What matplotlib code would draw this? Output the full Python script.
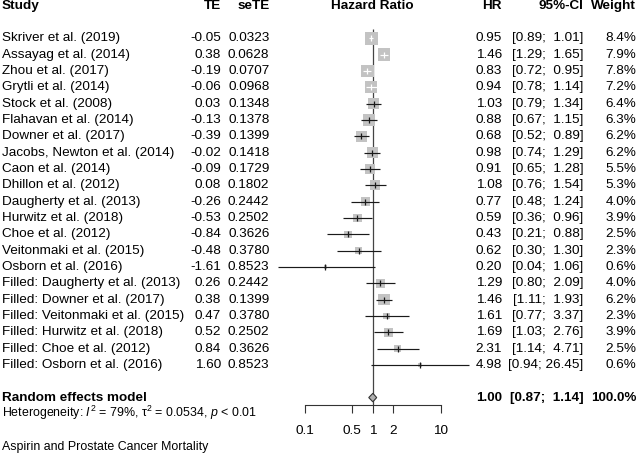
# Forest plot: aspirin and prostate cancer mortality (trim-and-fill random effects)

import numpy as np
import matplotlib
matplotlib.use('Agg')
import matplotlib.pyplot as plt
import matplotlib.transforms as mtransforms

# --------------------------- DATA ---------------------------

studies = ['Skriver et al. (2019)', 'Assayag et al. (2014)', 'Zhou et al. (2017)',
           'Grytli et al. (2014)', 'Stock et al. (2008)', 'Flahavan et al. (2014)',
           'Downer et al. (2017)', 'Jacobs, Newton et al. (2014)', 'Caon et al. (2014)',
           'Dhillon et al. (2012)', 'Daugherty et al. (2013)', 'Hurwitz et al. (2018)',
           'Choe et al. (2012)', 'Veitonmaki et al. (2015)', 'Osborn et al. (2016)',
           'Filled: Daugherty et al. (2013)', 'Filled: Downer et al. (2017)',
           'Filled: Veitonmaki et al. (2015)', 'Filled: Hurwitz et al. (2018)',
           'Filled: Choe et al. (2012)', 'Filled: Osborn et al. (2016)']
te = [-0.05, 0.38, -0.19, -0.06, 0.03, -0.13, -0.39, -0.02, -0.09, 0.08, -0.26,
      -0.53, -0.84, -0.48, -1.61, 0.26, 0.38, 0.47, 0.52, 0.84, 1.60]
sete = [0.0323, 0.0628, 0.0707, 0.0968, 0.1348, 0.1378, 0.1399, 0.1418, 0.1729,
        0.1802, 0.2442, 0.2502, 0.3626, 0.3780, 0.8523, 0.2442, 0.1399, 0.3780,
        0.2502, 0.3626, 0.8523]
hr = [0.95, 1.46, 0.83, 0.94, 1.03, 0.88, 0.68, 0.98, 0.91, 1.08, 0.77, 0.59,
      0.43, 0.62, 0.20, 1.29, 1.46, 1.61, 1.69, 2.31, 4.98]
ci_lower = [0.89, 1.29, 0.72, 0.78, 0.79, 0.67, 0.52, 0.74, 0.65, 0.76, 0.48, 0.36,
            0.21, 0.30, 0.04, 0.80, 1.11, 0.77, 1.03, 1.14, 0.94]
ci_upper = [1.01, 1.65, 0.95, 1.14, 1.34, 1.15, 0.89, 1.29, 1.28, 1.54, 1.24, 0.96,
            0.88, 1.30, 1.06, 2.09, 1.93, 3.37, 2.76, 4.71, 26.45]
weight = [8.4, 7.9, 7.8, 7.2, 6.4, 6.3, 6.2, 6.2, 5.5, 5.3, 4.0, 3.9, 2.5, 2.3,
          0.6, 4.0, 6.2, 2.3, 3.9, 2.5, 0.6]

pooled_hr = 1.00
pooled_lower = 0.87
pooled_upper = 1.14

tick_values = [0.1, 0.5, 1, 2, 10]
tick_labels = ['0.1', '0.5', '1', '2', '10']

hetero_text = r'Heterogeneity: $I^2$ = 79%, $\mathrm{\tau}^2$ = 0.0534, $p$ < 0.01'
title_text = 'Aspirin and Prostate Cancer Mortality'

# --------------------------- STYLE ---------------------------

plt.rcParams['font.family'] = ['Liberation Sans', 'DejaVu Sans']
plt.rcParams['mathtext.fontset'] = 'custom'
plt.rcParams['mathtext.rm'] = 'Liberation Sans'
plt.rcParams['mathtext.it'] = 'Liberation Sans:italic'
plt.rcParams['mathtext.bf'] = 'Liberation Sans:bold'

fs = 9.7               # [pt] main text size
fs_small = 8.9         # [pt] heterogeneity / title size
box_col = '#C3C3C3'
line_col = '#1A1A1A'

W, H = 637, 454
row0_px = 38.3         # pixel y of first study row
row_px = 16.33         # pixel height of one row
axis_px = 405.0        # pixel y of the x axis line


def px_to_row(y):
    return 1 + (y - row0_px) / row_px


# --------------------------- FIGURE ---------------------------

fig = plt.figure(figsize=(W / 100, H / 100), dpi=100)
ax = fig.add_axes([305 / W, (H - axis_px) / H, (440.7 - 305) / W, axis_px / H])
ax.set_xscale('log')
ax.set_xlim(0.1, 10)
ax.set_ylim(px_to_row(axis_px), px_to_row(0))
ax.patch.set_alpha(0)
for side in ['left', 'right', 'top']:
    ax.spines[side].set_visible(False)
ax.spines['bottom'].set_linewidth(0.8)
ax.spines['bottom'].set_color('#333333')
ax.yaxis.set_visible(False)
ax.set_xticks(tick_values)
ax.set_xticklabels(tick_labels, fontsize=fs)
ax.xaxis.set_minor_locator(matplotlib.ticker.NullLocator())
ax.tick_params(axis='x', direction='out', length=5.8, width=0.8, pad=8.5, color='#333333')

# blended transform: x in figure fraction, y in rows
tr = mtransforms.blended_transform_factory(fig.transFigure, ax.transData)

n = len(studies)
rows = np.arange(1, n + 1)

# Reference line at HR = 1.
ax.vlines(1, px_to_row(29), px_to_row(axis_px), color='#444444', lw=0.9, zorder=1)

# Squares, CI lines and estimate ticks.
box_side_px = 13 * np.sqrt(np.array(weight) / max(weight))
box_side_pt = box_side_px * 0.72
ax.scatter(hr, rows, s=box_side_pt ** 2, marker='s', color=box_col, linewidths=0,
           zorder=2, clip_on=False)
decade_px = (440.7 - 305) / 2
for i in range(n):
    half = box_side_px[i] / 2
    left_px = decade_px * np.log10(hr[i] / ci_lower[i])
    right_px = decade_px * np.log10(ci_upper[i] / hr[i])
    col = 'white' if (left_px < half and right_px < half) else line_col
    ax.plot([ci_lower[i], ci_upper[i]], [rows[i], rows[i]], color=col, lw=0.85,
            zorder=3, clip_on=False, solid_capstyle='butt')
    ax.plot(hr[i], rows[i], marker='|', ms=4, mew=0.9, color=col, zorder=3,
            clip_on=False)

# Pooled diamond.
pooled_row = n + 2
dh = 0.26
ax.fill([pooled_lower, pooled_hr, pooled_upper, pooled_hr],
        [pooled_row, pooled_row - dh, pooled_row, pooled_row + dh],
        facecolor='#B0B0B0', edgecolor='#333333', lw=0.8, zorder=3, clip_on=False)

# --------------------------- TEXT COLUMNS ---------------------------

x_study = 2 / W
x_te = 221 / W
x_sete = 269.5 / W
x_hr = 502 / W
x_ci = 583.5 / W
x_wt = 636 / W

head_row = -1
ax.text(x_study, head_row, 'Study', transform=tr, ha='left', va='center',
        fontsize=fs, fontweight='bold')
ax.text(x_te, head_row, 'TE', transform=tr, ha='right', va='center',
        fontsize=fs, fontweight='bold')
ax.text(x_sete, head_row, 'seTE', transform=tr, ha='right', va='center',
        fontsize=fs, fontweight='bold')
ax.text(372.6 / W, head_row, 'Hazard Ratio', transform=tr, ha='center', va='center',
        fontsize=fs, fontweight='bold')
ax.text(x_hr, head_row, 'HR', transform=tr, ha='right', va='center',
        fontsize=fs, fontweight='bold')
ax.text(x_ci, head_row, '95%-CI', transform=tr, ha='right', va='center',
        fontsize=fs, fontweight='bold')
ax.text(x_wt, head_row, 'Weight', transform=tr, ha='right', va='center',
        fontsize=fs, fontweight='bold')


def ci_string(lo, up):
    up_s = '%.2f' % up
    pad = '  ' if len(up_s) < 5 else ' '
    return '[%.2f;%s%s]' % (lo, pad, up_s)


for i in range(n):
    r = rows[i]
    ax.text(x_study, r, studies[i], transform=tr, ha='left', va='center', fontsize=fs)
    ax.text(x_te, r, '%.2f' % te[i], transform=tr, ha='right', va='center', fontsize=fs)
    ax.text(x_sete, r, '%.4f' % sete[i], transform=tr, ha='right', va='center', fontsize=fs)
    ax.text(x_hr, r, '%.2f' % hr[i], transform=tr, ha='right', va='center', fontsize=fs)
    ax.text(x_ci, r, ci_string(ci_lower[i], ci_upper[i]), transform=tr, ha='right',
            va='center', fontsize=fs)
    ax.text(x_wt, r, '%.1f%%' % weight[i], transform=tr, ha='right', va='center', fontsize=fs)

# Pooled row.
ax.text(x_study, pooled_row, 'Random effects model', transform=tr, ha='left',
        va='center', fontsize=fs, fontweight='bold')
ax.text(x_hr, pooled_row, '%.2f' % pooled_hr, transform=tr, ha='right', va='center',
        fontsize=fs, fontweight='bold')
ax.text(x_ci, pooled_row, ci_string(pooled_lower, pooled_upper), transform=tr,
        ha='right', va='center', fontsize=fs, fontweight='bold')
ax.text(x_wt, pooled_row, '100.0%', transform=tr, ha='right', va='center',
        fontsize=fs, fontweight='bold')

# Heterogeneity and title.
ax.text(x_study, px_to_row(416.5), hetero_text, transform=tr, ha='left', va='baseline',
        fontsize=fs_small)
ax.text(x_study, px_to_row(450), title_text, transform=tr, ha='left', va='baseline',
        fontsize=fs_small)

fig.savefig('out.png', dpi=100)
